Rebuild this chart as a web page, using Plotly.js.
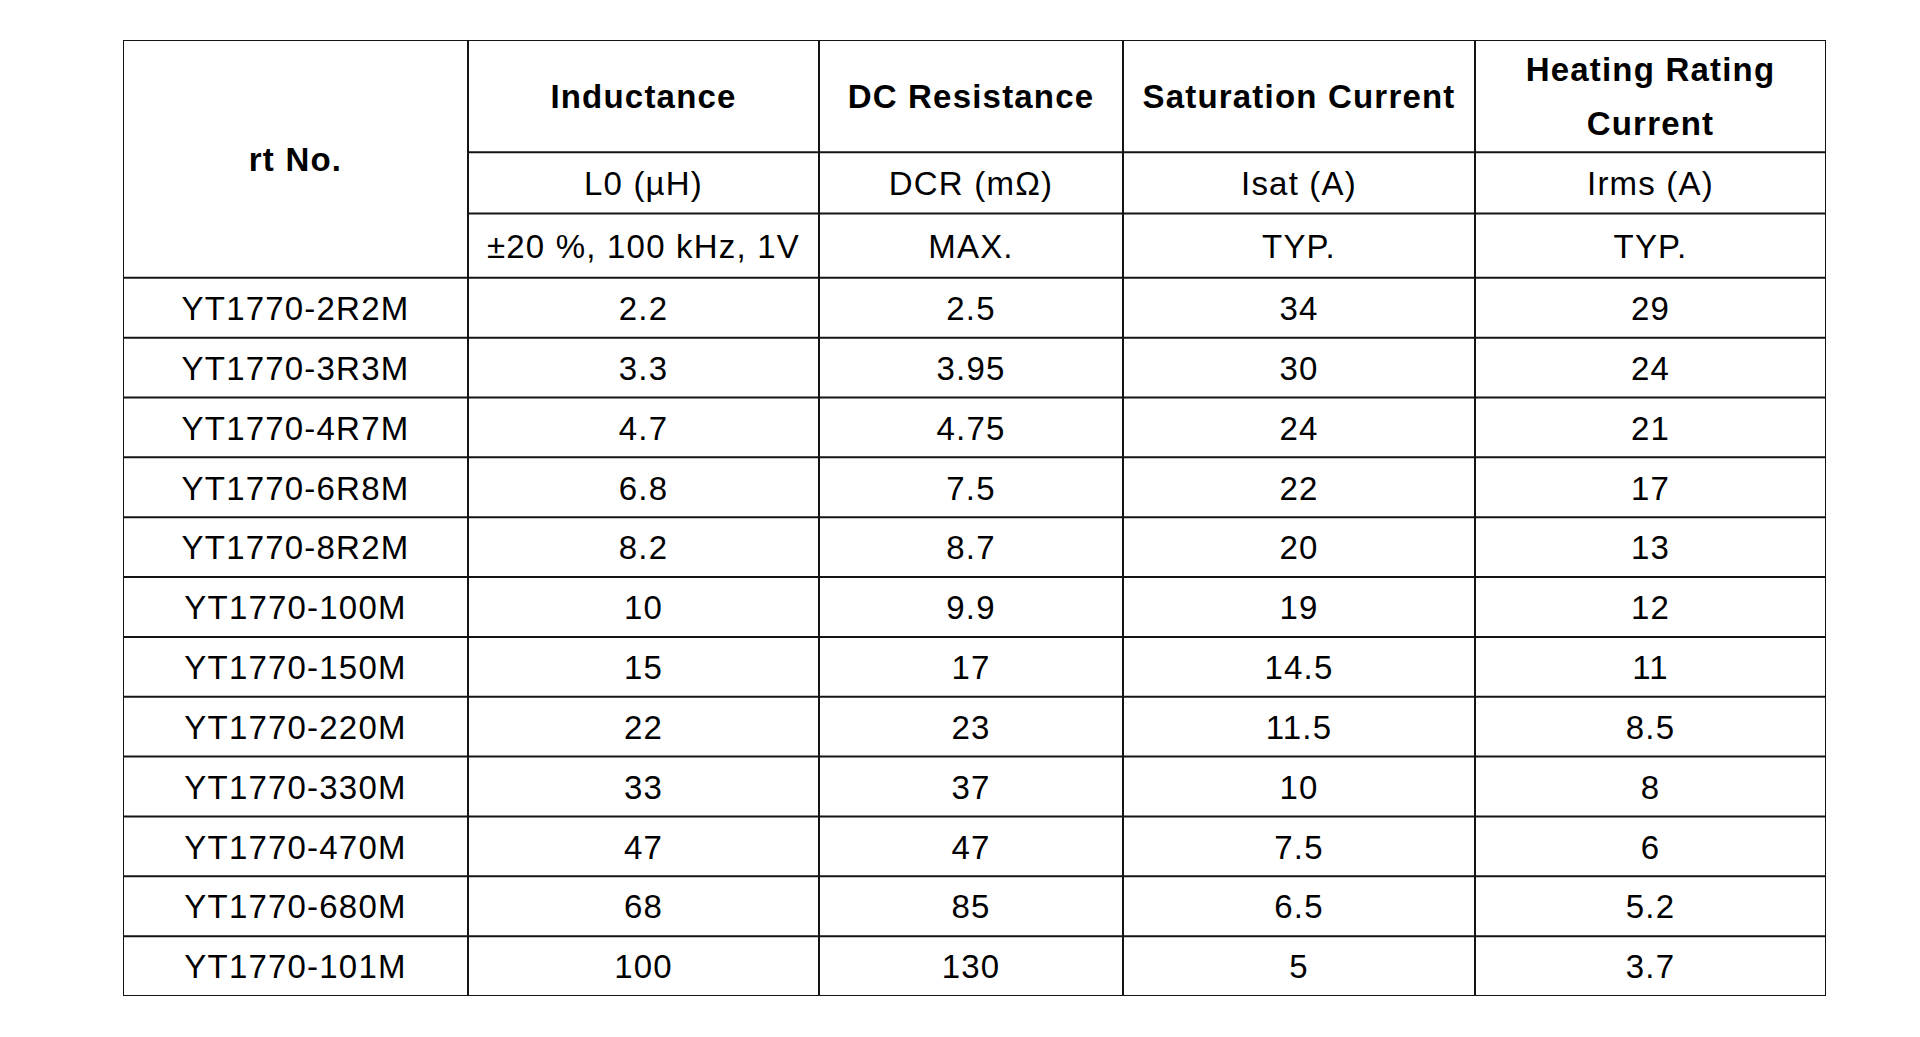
<!DOCTYPE html>
<html>
<head>
<meta charset="utf-8">
<script src="https://cdn.plot.ly/plotly-3.0.1.min.js"></script>
<style>
  html, body { margin: 0; padding: 0; background: #ffffff; }
  #chart { width: 1920px; height: 1037px; }
  #chart .textpoint text { letter-spacing: 1.2px; }
</style>
</head>
<body>
<div id="chart"></div>
<script>
// ---------------- DATA ----------------
var headerTitles = ["rt No.", "Inductance", "DC Resistance", "Saturation Current", "Heating Rating Current"];
var headerSymbols = ["L0 (µH)", "DCR (mΩ)", "Isat (A)", "Irms (A)"];
var headerConditions = ["±20 %, 100 kHz, 1V", "MAX.", "TYP.", "TYP."];

var partNo = ["YT1770-2R2M", "YT1770-3R3M", "YT1770-4R7M", "YT1770-6R8M", "YT1770-8R2M", "YT1770-100M",
              "YT1770-150M", "YT1770-220M", "YT1770-330M", "YT1770-470M", "YT1770-680M", "YT1770-101M"];
var inductance = [2.2, 3.3, 4.7, 6.8, 8.2, 10, 15, 22, 33, 47, 68, 100];
var dcResistance = [2.5, 3.95, 4.75, 7.5, 8.7, 9.9, 17, 23, 37, 47, 85, 130];
var saturationCurrent = [34, 30, 24, 22, 20, 19, 14.5, 11.5, 10, 7.5, 6.5, 5];
var heatingCurrent = [29, 24, 21, 17, 13, 12, 11, 8.5, 8, 6, 5.2, 3.7];

// ---------------- LAYOUT CONFIG (sizes / styles) ----------------
var colWidths = [345, 351, 304, 352, 351];
var headerRowHeights = [112.3, 61.2, 64.3];
var bodyRowHeight = 59.85;
var fontFamily = "Liberation Sans, Arial, Helvetica, sans-serif";
var fontSize = 33;
var lineColor = "#141414";
var lineWidth = 2;
var titleLineGap = 54;
var textYOffset = 4;

// ---------------- GEOMETRY FROM CONFIG ----------------
var colEdges = [0];
colWidths.forEach(function (w) { colEdges.push(colEdges[colEdges.length - 1] + w); });
var colCenters = colWidths.map(function (w, i) { return colEdges[i] + w / 2; });
var totalW = colEdges[colEdges.length - 1];

var rowEdges = [0];
headerRowHeights.forEach(function (h) { rowEdges.push(rowEdges[rowEdges.length - 1] + h); });
var headerBottom = rowEdges[rowEdges.length - 1];
for (var r = 0; r < partNo.length; r++) rowEdges.push(headerBottom + (r + 1) * bodyRowHeight);
var totalH = rowEdges[rowEdges.length - 1];
function rowCenter(i) { return (rowEdges[i] + rowEdges[i + 1]) / 2 + textYOffset; }

// text wrapping using real measured widths
var measureCtx = document.createElement("canvas").getContext("2d");
function wrapText(str, maxW, bold) {
  measureCtx.font = (bold ? "bold " : "") + fontSize + "px " + fontFamily;
  var words = str.split(" "), lines = [], cur = "";
  words.forEach(function (w) {
    var test = cur ? cur + " " + w : w;
    if (cur && measureCtx.measureText(test).width + test.length * 1.2 > maxW) { lines.push(cur); cur = w; }
    else cur = test;
  });
  if (cur) lines.push(cur);
  return lines;
}

// ---------------- TRACES ----------------
// header titles (bold)
var tX = [], tY = [], tT = [];
tX.push(colCenters[0]); tY.push(headerBottom / 2 + textYOffset); tT.push(headerTitles[0]);
for (var c = 1; c < headerTitles.length; c++) {
  var lines = wrapText(headerTitles[c], colWidths[c] - 30, true);
  var cy = rowCenter(0);
  lines.forEach(function (ln, k) {
    tX.push(colCenters[c]);
    tY.push(cy + (k - (lines.length - 1) / 2) * titleLineGap);
    tT.push(ln);
  });
}

// header sub rows (regular)
var sX = [], sY = [], sT = [];
headerSymbols.forEach(function (s, i) { sX.push(colCenters[i + 1]); sY.push(rowCenter(1)); sT.push(s); });
headerConditions.forEach(function (s, i) { sX.push(colCenters[i + 1]); sY.push(rowCenter(2)); sT.push(s); });

// body
var columns = [partNo, inductance, dcResistance, saturationCurrent, heatingCurrent];
var bX = [], bY = [], bT = [];
columns.forEach(function (col, ci) {
  col.forEach(function (v, ri) {
    bX.push(colCenters[ci]);
    bY.push(rowCenter(3 + ri));
    bT.push(String(v));
  });
});

function textTrace(x, y, t, weight) {
  return {
    type: "scatter", mode: "text", x: x, y: y, text: t,
    textposition: "middle center", cliponaxis: false, hoverinfo: "skip", showlegend: false,
    textfont: { family: fontFamily, size: fontSize, color: "#000000", weight: weight }
  };
}

var data = [
  textTrace(tX, tY, tT, 700),
  textTrace(sX, sY, sT, 400),
  textTrace(bX, bY, bT, 400)
];

// ---------------- GRID LINES ----------------
var shapes = [];
function hline(y, x0, x1) {
  shapes.push({ type: "line", xref: "x", yref: "y", x0: x0, x1: x1, y0: y, y1: y,
                line: { color: lineColor, width: lineWidth } });
}
function vline(x, y0, y1) {
  shapes.push({ type: "line", xref: "x", yref: "y", x0: x, x1: x, y0: y0, y1: y1,
                line: { color: lineColor, width: lineWidth } });
}
colEdges.forEach(function (x) { vline(x, 0, totalH); });
rowEdges.forEach(function (y, i) {
  if (i === 1 || i === 2) hline(y, colEdges[1], totalW);  // merged "rt No." cell
  else hline(y, 0, totalW);
});

var layout = {
  width: 1920, height: 1037,
  margin: { l: 123, r: 1920 - 123 - totalW, t: 40, b: 1037 - 40 - totalH, pad: 0 },
  paper_bgcolor: "#ffffff", plot_bgcolor: "#ffffff",
  xaxis: { range: [0, totalW], visible: false, fixedrange: true },
  yaxis: { range: [totalH, 0], visible: false, fixedrange: true },
  shapes: shapes,
  hovermode: false,
  showlegend: false
};

Plotly.newPlot("chart", data, layout, { displayModeBar: false, staticPlot: true });
</script>
</body>
</html>
